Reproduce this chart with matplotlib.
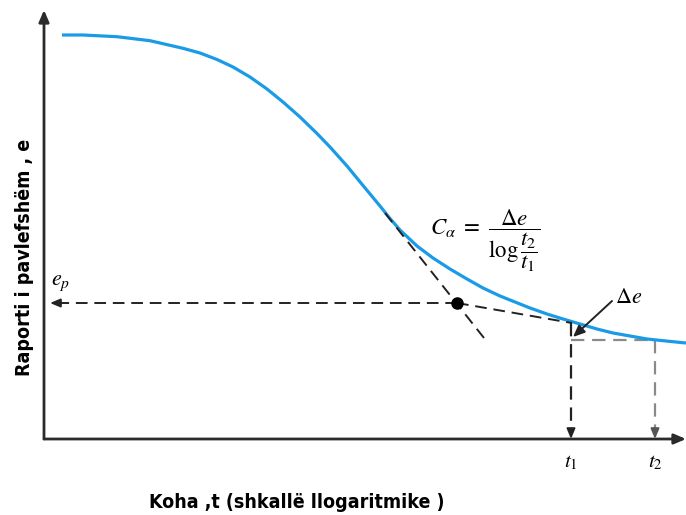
import matplotlib
matplotlib.use("Agg")
from matplotlib import pyplot as plt

plt.rcParams['mathtext.fontset'] = 'stix'

# consolidation curve (x = log t, y = e, arbitrary units)
curve_x = [18, 39, 73, 106, 139, 156, 173, 189, 206, 223, 239, 256, 273, 286,
           303, 319, 336, 346, 356, 373, 389, 406, 423, 439, 456, 471, 486,
           503, 519, 536, 553, 569, 586, 603, 622, 642]
curve_y = [404, 404, 402.3, 398.3, 390.7, 386, 379.5, 372, 362, 350, 337, 322,
           305.5, 292, 273, 253.5, 233, 220.5, 209, 193, 181, 170, 160, 151,
           143, 137, 131, 125, 120, 115, 110, 106, 103, 100, 98, 96]

# tangent lines
tan1_x = [341, 440]
tan1_y = [226, 101]
tan2_x = [413, 528]
tan2_y = [136, 116]

# intersection point / e_p level
ep_x = 413
ep_y = 136

# t1, t2 positions and level e(t1)
t1 = 527
t2 = 611
e_t1 = 99
e_tan = 116

x_label = "Koha ,t (shkallë llogaritmike )"
y_label = "Raporti i pavlefshëm , e"

fig = plt.figure(figsize=(6.86, 5.15), dpi=100)
ax = fig.add_axes([0, 0, 1, 1])
ax.set_xlim(-44, 642)
ax.set_ylim(-76, 439)
ax.axis('off')

axis_col = '#2b2b2b'
head = dict(arrowstyle='-|>,head_length=0.7,head_width=0.3', color=axis_col, lw=2,
            shrinkA=0, shrinkB=0)
ax.annotate('', xy=(0, 429), xytext=(0, 0), arrowprops=head)
ax.annotate('', xy=(642, 0), xytext=(0, 0), arrowprops=head)

# curve
ax.plot(curve_x, curve_y, color='#1a9be6', lw=2.3, solid_capstyle='butt',
        solid_joinstyle='round', zorder=3)

dash = (0, (6, 3.5))
ax.plot(tan1_x, tan1_y, color='#222222', lw=1.4, linestyle=dash, zorder=4)
ax.plot(tan2_x, tan2_y, color='#222222', lw=1.4, linestyle=dash, zorder=4)
ax.plot([ep_x], [ep_y], 'o', color='black', ms=8, zorder=5)

# e_p arrow
ax.plot([ep_x, 12], [ep_y, ep_y], color='#222222', lw=1.4, linestyle=dash)
small = dict(arrowstyle='-|>,head_length=0.6,head_width=0.25', color='#222222', lw=1.4,
             shrinkA=0, shrinkB=0)
ax.annotate('', xy=(6, ep_y), xytext=(14, ep_y), arrowprops=small)

# t1 / t2 verticals
ax.plot([t1, t1], [e_tan, 8], color='#222222', lw=1.6, linestyle=dash)
ax.annotate('', xy=(t1, 0), xytext=(t1, 10), arrowprops=small)
ax.plot([t1, t2], [e_t1, e_t1], color='#8a8a8a', lw=1.6, linestyle=dash)
ax.plot([t2, t2], [e_t1, 8], color='#8a8a8a', lw=1.6, linestyle=dash)
gsmall = dict(small, color='#555555')
ax.annotate('', xy=(t2, 0), xytext=(t2, 10), arrowprops=gsmall)

# delta e pointer
ax.annotate('', xy=(529, 102), xytext=(568, 138),
            arrowprops=dict(arrowstyle='-|>,head_length=0.7,head_width=0.3',
                            color='#222222', lw=1.4, shrinkA=0, shrinkB=0))
ax.text(571, 142, r'$\Delta e$', fontsize=16, ha='left', va='center')

# formula
ax.text(386, 198, r'$C_{\alpha}\ =\ \dfrac{\Delta e}{\log\dfrac{t_2}{t_1}}$',
        fontsize=16.5, ha='left', va='center')

ax.text(17, 156, r'$e_p$', fontsize=16, ha='center', va='center')
ax.text(t1, -23, r'$t_1$', fontsize=15, ha='center', va='center')
ax.text(t2, -23, r'$t_2$', fontsize=15, ha='center', va='center')

ax.text(253, -63, x_label, fontsize=14, fontweight='bold', family='DejaVu Sans',
        fontstretch='condensed', ha='center', va='center')
ax.text(-19, 182, y_label, fontsize=14, fontweight='bold', family='DejaVu Sans',
        fontstretch='condensed', ha='center', va='center', rotation=90)

fig.savefig('out.png', dpi=100)
